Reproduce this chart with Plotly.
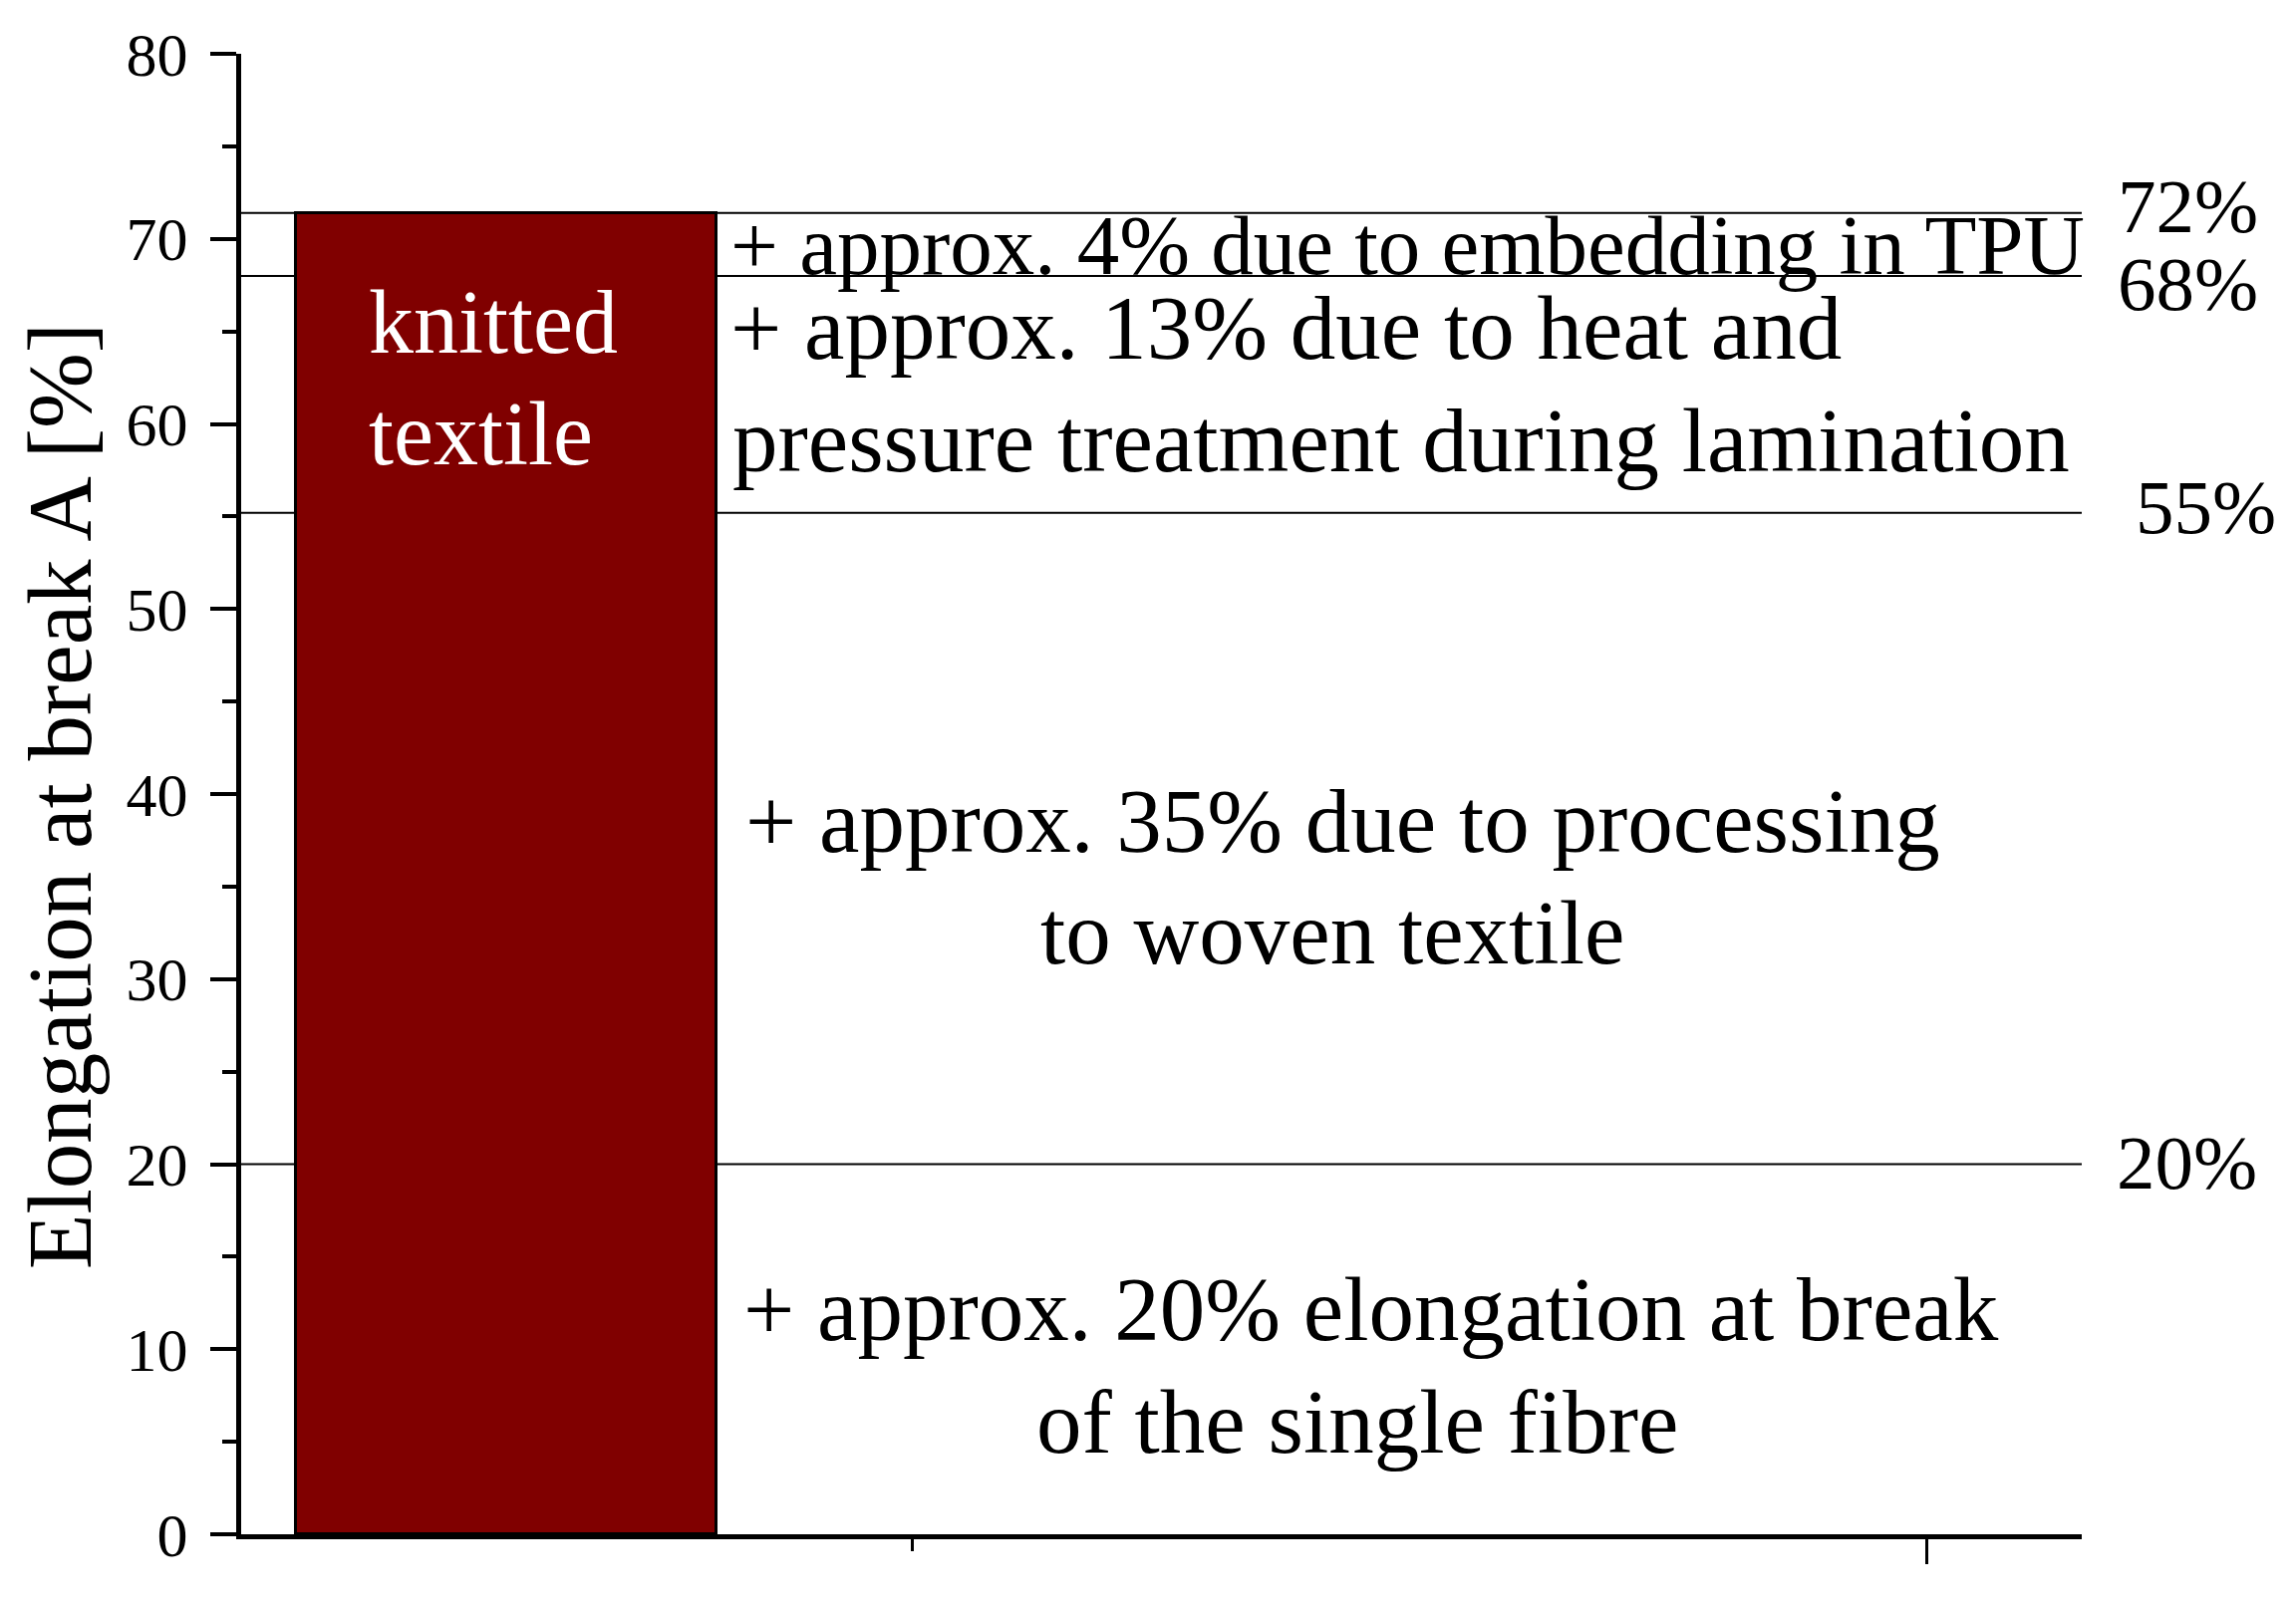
import plotly.graph_objects as go

# bar data
bar_x = [0.6]
bar_value = [71.4]
bar_label = ["knitted", "textile"]

# cumulative levels drawn as horizontal lines + their labels on the right
levels = [71.4, 68.0, 55.2, 20.0]
level_labels = ["72%", "68%", "55%", "20%"]

# explanation texts, one entry per printed line
explain_lines = [
    "+ approx. 4% due to embedding in TPU",
    "+ approx. 13% due to heat and",
    "pressure treatment during lamination",
    "+ approx. 35% due to processing",
    "to woven textile",
    "+ approx. 20% elongation at break",
    "of the single fibre",
]

y_ticks = [0, 10, 20, 30, 40, 50, 60, 70, 80]

FONT = "Liberation Serif, Times New Roman, serif"
OFF = 8  # page body margin
W, H = 2304 - OFF, 1612 - OFF
# plot area in page pixels
L, R, T, B = 242, 2089, 54, 1540


def px_x(p):
    return (p - L) / (R - L)


def px_y(p):
    return (B - p) / (B - T)


fig = go.Figure()

fig.add_trace(go.Bar(
    x=bar_x, y=bar_value, width=0.415,
    marker=dict(color="#800000", line=dict(color="black", width=3)),
    showlegend=False, hoverinfo="skip",
))

for lv in levels:
    fig.add_shape(type="line", xref="x domain", yref="y",
                  x0=0, x1=1, y0=lv, y1=lv, layer="below",
                  line=dict(color="black", width=2))

# right-hand level labels
label_x = [2123, 2123, 2141, 2122]
label_shift = [7, -8, 6, 2]
for lv, txt, lx, sh in zip(levels, level_labels, label_x, label_shift):
    fig.add_annotation(text=txt, xref="paper", yref="y", x=px_x(lx), y=lv,
                       xanchor="left", yanchor="middle", yshift=sh,
                       showarrow=False, font=dict(family=FONT, size=77, color="black"))

# explanation lines: (x px, baseline px, font size)
line_pos = [(731, 275, 85), (731, 360, 91), (733, 473, 91), (746, 855, 91),
            (1042, 967, 91), (744, 1345, 91), (1038, 1458, 91)]
for txt, (lx, base, fs) in zip(explain_lines, line_pos):
    fig.add_annotation(text=txt, xref="paper", yref="paper",
                       x=px_x(lx), y=px_y(base - 0.3375 * fs),
                       xanchor="left", yanchor="middle", showarrow=False,
                       font=dict(family=FONT, size=fs, color="black"))

# label inside the bar
for txt, base in zip(bar_label, [354, 466]):
    fig.add_annotation(text=txt, xref="paper", yref="paper",
                       x=px_x(368), y=px_y(base - 0.3375 * 90),
                       xanchor="left", yanchor="middle", showarrow=False,
                       font=dict(family=FONT, size=90, color="white"))

# y-axis title
fig.add_annotation(text="Elongation at break A [%]", xref="paper", yref="paper",
                   x=px_x(60), y=px_y(799), textangle=-90,
                   xanchor="center", yanchor="middle", showarrow=False,
                   font=dict(family=FONT, size=91, color="black"))

fig.update_xaxes(
    range=[0.3389, 2.1532], showgrid=False, zeroline=False,
    showline=True, linecolor="black", linewidth=5,
    ticks="outside", tickvals=[2], ticklen=25, tickwidth=3, tickcolor="black",
    showticklabels=False,
    minor=dict(tickvals=[1], ticks="outside", ticklen=12, tickwidth=3, tickcolor="black"),
)
fig.update_yaxes(
    range=[0, 80], showgrid=False, zeroline=False,
    showline=True, linecolor="black", linewidth=5,
    ticks="outside", tickvals=y_ticks, ticklen=26, tickwidth=4, tickcolor="black",
    tickfont=dict(family=FONT, size=62, color="black"),
    ticklabelstandoff=10,
    minor=dict(dtick=5, ticks="outside", ticklen=14, tickwidth=4, tickcolor="black"),
)

fig.update_layout(
    width=W, height=H,
    margin=dict(l=L - OFF, r=W + OFF - R, t=T - OFF, b=H + OFF - B, pad=0),
    plot_bgcolor="white", paper_bgcolor="white",
    bargap=0,
)

fig.write_html("out.html")
